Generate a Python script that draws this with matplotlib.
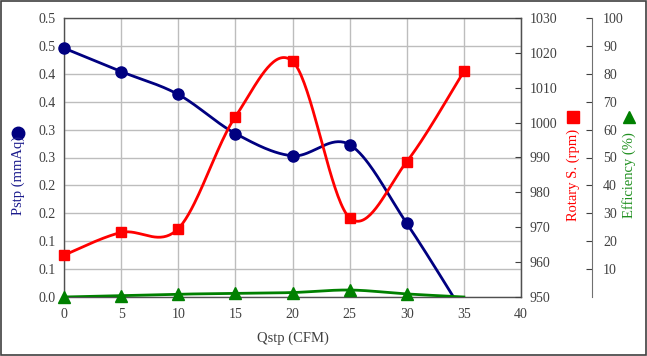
import numpy as np
import matplotlib
matplotlib.use("Agg")
import matplotlib.pyplot as plt
from matplotlib.lines import Line2D
from matplotlib.patches import Rectangle

# ---- data ----
qstp = [0, 5, 10, 15, 20, 25, 30, 35]
pstp = [0.446, 0.404, 0.363, 0.293, 0.253, 0.273, 0.132, -0.03]
rotary = [962.0, 968.5, 969.6, 1001.7, 1017.6, 972.7, 988.8, 1014.7]
efficiency = [0.0, 0.5, 1.0, 1.3, 1.6, 2.5, 1.1, 0.0]

x_ticks = [0, 5, 10, 15, 20, 25, 30, 35, 40]
p_ticks = [0.0, 0.05, 0.10, 0.15, 0.20, 0.25, 0.30, 0.35, 0.40, 0.45, 0.50]
p_tick_labels = ['0.0', '0.1', '0.1', '0.2', '0.2', '0.3', '0.3', '0.4', '0.4', '0.5', '0.5']
r_ticks = [950, 960, 970, 980, 990, 1000, 1010, 1020, 1030]
e_ticks = [10, 20, 30, 40, 50, 60, 70, 80, 90, 100]


def smooth(xs, ys, n=40):
    P = np.column_stack([xs, ys]).astype(float)
    out = [P[0]]
    m = len(P)
    t = np.linspace(0, 1, n)[1:, None]
    for i in range(m - 1):
        p0 = P[i - 1] if i > 0 else P[i]
        p1, p2 = P[i], P[i + 1]
        p3 = P[i + 2] if i + 2 < m else P[i + 1]
        c1 = p1 + (p2 - p0) / 6.0
        c2 = p2 - (p3 - p1) / 6.0
        seg = ((1 - t) ** 3) * p1 + 3 * ((1 - t) ** 2) * t * c1 + 3 * (1 - t) * t ** 2 * c2 + t ** 3 * p2
        out.extend(seg)
    out = np.array(out)
    return out[:, 0], out[:, 1]


W, H = 647, 356
fig = plt.figure(figsize=(W / 100, H / 100), dpi=100)
plt.rcParams['font.family'] = ['Liberation Serif', 'DejaVu Sans']

L, R, T, B = 64, 521, 18, 297
ax = fig.add_axes([L / W, 1 - B / H, (R - L) / W, (B - T) / H])
ax2 = ax.twinx()
ax3 = ax.twinx()

tick_col = '#404040'
spine_col = '#505050'
navy = '#000080'
red = '#ff0000'
green = '#008000'

# primary axis
ax.set_xlim(0, 40)
ax.set_ylim(0, 0.5)
ax.set_xticks(x_ticks)
ax.set_yticks(p_ticks)
ax.set_yticklabels(p_tick_labels)
ax.grid(True, color='#bdbdbd', linewidth=1.0)
ax.set_axisbelow(True)
ax.tick_params(axis='y', direction='in', length=0, labelsize=10, colors=tick_col, pad=6)
ax.tick_params(axis='x', direction='in', length=0, labelsize=10, colors=tick_col, pad=8)
for s in ax.spines.values():
    s.set_color(spine_col)
    s.set_linewidth(1.0)

n_shown = list(range(len(qstp) - 1))

sx, sy = smooth(qstp, pstp)
ax.plot(sx, sy, color=navy, lw=2.0, zorder=3)
ax.plot(qstp, pstp, linestyle='none', marker='o', ms=8, color=navy, zorder=4,
        markevery=n_shown, clip_on=False)

# rotary axis
ax2.set_ylim(950, 1030)
ax2.set_yticks(r_ticks)
ax2.tick_params(axis='y', direction='in', length=4, labelsize=10, colors=tick_col, pad=6)
for s in ax2.spines.values():
    s.set_visible(False)
ax2.spines['right'].set_visible(True)
ax2.spines['right'].set_color(spine_col)
sx, sy = smooth(qstp, rotary)
ax2.plot(sx, sy, color=red, lw=2.0, zorder=3)
ax2.plot(qstp, rotary, linestyle='none', marker='s', ms=7.5, color=red, zorder=4, clip_on=False)

# efficiency axis
ax3.set_ylim(0, 100)
ax3.set_yticks(e_ticks)
for s in ax3.spines.values():
    s.set_visible(False)
ax3.spines['right'].set_visible(True)
ax3.spines['right'].set_position(('axes', (592 - L) / (R - L)))
ax3.spines['right'].set_color('#707070')
ax3.tick_params(axis='y', direction='in', length=4, labelsize=10, colors=tick_col, pad=8)
sx, sy = smooth(qstp, efficiency)
ax3.plot(sx, sy, color=green, lw=2.0, zorder=3)
ax3.plot(qstp, efficiency, linestyle='none', marker='^', ms=8, color=green,
         markevery=n_shown, zorder=4, clip_on=False)

# axis titles
fig.text(0.5 * (L + R) / W, 1 - 338 / H, 'Qstp (CFM)', ha='center', va='center', fontsize=10.5, color=tick_col)
fig.text(18 / W, 1 - 175 / H, 'Pstp (mmAq)', rotation=90, ha='center', va='center', fontsize=10.5, color='#1a1a8c')
fig.add_artist(Line2D([18 / W], [1 - 133 / H], marker='o', ms=9, color=navy, transform=fig.transFigure))
fig.text(573 / W, 1 - 175 / H, 'Rotary S. (rpm)', rotation=90, ha='center', va='center', fontsize=10.5, color=red)
fig.add_artist(Line2D([573 / W], [1 - 117 / H], marker='s', ms=8.5, color=red, transform=fig.transFigure))
fig.text(629 / W, 1 - 175 / H, 'Efficiency (%)', rotation=90, ha='center', va='center', fontsize=10.5, color='#1f8f1f')
fig.add_artist(Line2D([629 / W], [1 - 117 / H], marker='^', ms=9, color=green, transform=fig.transFigure))

# outer frame
fig.add_artist(Rectangle((0.001, 0.002), 0.997, 0.996, transform=fig.transFigure,
                         fill=False, edgecolor='#404040', linewidth=1.2))

fig.savefig('out.png', dpi=100)
